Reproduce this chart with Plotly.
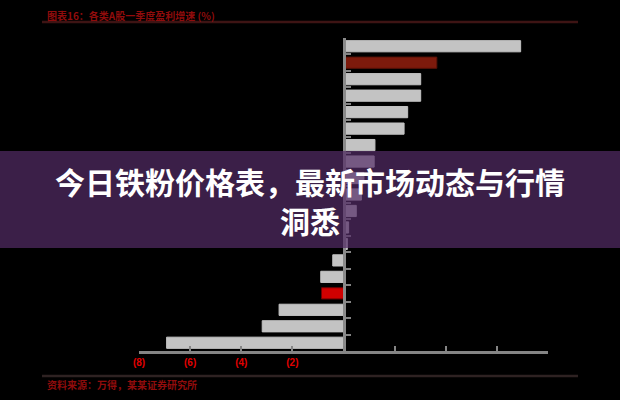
import plotly.graph_objects as go

# ---- data ----
categories = [f"项目{i}" for i in range(1, 20)]
values = [6.93, 3.65, 3.02, 3.02, 2.51, 2.37, 1.23, 1.2, 0.8, 0.7, 0.5, 0.2, 0.15,
          -0.42, -0.89, -0.86, -2.52, -3.18, -6.92]
highlight_dark = ["项目2"]
highlight_red = ["项目16"]
tick_vals = [-8, -6, -4, -2, 0, 2, 4, 6, 8]
tick_text = ["(8)", "(6)", "(4)", "(2)", "", "", "", "", ""]
title_text = "图表16：各类A股一季度盈利增速 (%)"
source_text = "资料来源：万得，某某证券研究所"
banner_text = "今日铁粉价格表，最新市场动态与行情<br>洞悉"

W, H = 620, 400
L, R, T, B = 139, 548, 38, 351


def px(x):
    return (x - L) / (R - L)


def py(y):
    return (B - y) / (B - T)


colors = []
lines = []
for c in categories:
    if c in highlight_dark:
        colors.append("#7d1a0c")
        lines.append("#5a1208")
    elif c in highlight_red:
        colors.append("#d00000")
        lines.append("#700000")
    else:
        colors.append("#c3c3c3")
        lines.append("#c3c3c3")

fig = go.Figure(go.Bar(
    x=values, y=categories, orientation="h",
    marker=dict(color=colors, line=dict(color=lines, width=1)),
    width=0.68,
))

fig.update_layout(
    width=W, height=H,
    margin=dict(l=L, r=W - R, t=T, b=H - B),
    paper_bgcolor="black", plot_bgcolor="black",
    showlegend=False,
    xaxis=dict(range=[-8, 8], tickvals=tick_vals, ticktext=tick_text,
               showgrid=False, zeroline=False, showline=True,
               linecolor="#858585", linewidth=3, ticks="inside",
               ticklen=5, tickwidth=2, tickcolor="#858585",
               tickfont=dict(family="Liberation Sans", size=10, color="#e00000",
                             weight="bold"),
               ticklabelstandoff=0, fixedrange=True),
    yaxis=dict(type="category", categoryarray=categories, autorange="reversed",
               anchor="free", position=0.5, showgrid=False, zeroline=False,
               showline=True, linecolor="#8a8a8a", linewidth=3,
               ticks="inside", tickson="boundaries", ticklen=5, tickwidth=2,
               tickcolor="#858585", showticklabels=False, fixedrange=True),
    font=dict(family="Noto Sans CJK SC"),
)

shapes = [
    dict(type="line", xref="paper", yref="paper", x0=px(42), x1=px(578),
         y0=py(22), y1=py(22), line=dict(color="#3e1414", width=2.5)),
    dict(type="line", xref="paper", yref="paper", x0=px(42), x1=px(578),
         y0=py(376), y1=py(376), line=dict(color="#2e2222", width=2.5)),
    dict(type="rect", xref="paper", yref="paper", x0=px(0), x1=px(620),
         y0=py(248), y1=py(151), line=dict(width=0),
         fillcolor="rgba(84,44,102,0.70)", layer="above"),
]
fig.update_layout(shapes=shapes)

annotations = [
    dict(text=title_text, xref="paper", yref="paper", x=px(45), y=py(15),
         xanchor="left", yanchor="middle", showarrow=False,
         font=dict(family="Noto Sans CJK SC", size=10, color="#900c0c", weight="bold")),
    dict(text=source_text, xref="paper", yref="paper", x=px(45), y=py(384),
         xanchor="left", yanchor="middle", showarrow=False,
         font=dict(family="Noto Sans CJK SC", size=10, color="#900c0c", weight="bold")),
    dict(text=banner_text, xref="paper", yref="paper", x=px(310), y=py(200),
         xanchor="center", yanchor="middle", showarrow=False, align="center",
         font=dict(family="Noto Sans CJK SC", size=30, color="white", weight="bold")),
]
fig.update_layout(annotations=annotations)

fig.write_html(
    "out.html",
    config={"displayModeBar": False},
    post_script="document.body.style.margin='0';document.body.style.background='black';",
)
